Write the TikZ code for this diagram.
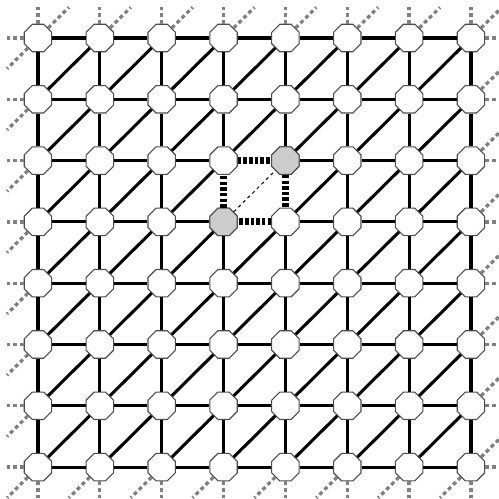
\documentclass[tikz,border=0pt]{standalone}
\usetikzlibrary{shapes.geometric}
\begin{document}
\begin{tikzpicture}[x=1cm,y=0.991cm,
  site/.style={regular polygon,regular polygon sides=8,draw=black!70,line width=0.5pt,fill=white,inner sep=0pt,minimum size=0.48cm},
  bond/.style={line width=1.4pt},
  ghost/.style={line width=1.5pt,black!50,dash pattern=on 1.8pt off 1.4pt},
  cut/.style={line width=3.2pt,dash pattern=on 1.6pt off 1pt},
  link/.style={line width=0.45pt,dash pattern=on 1.5pt off 1.5pt}]
\clip (-0.614,-0.506) rectangle (7.453,7.62);
\foreach \i in {0,...,7}
  \foreach \j in {0,...,7}
    \node[site] (n\i\j) at (\i,\j) {};
\node[site,fill=black!20] at (n34) {};
\node[site,fill=black!20] at (n45) {};
% ends of the wrapped bonds
\foreach \k in {0,...,7} {
  \coordinate (w\k) at (-0.5,\k);
  \coordinate (e\k) at (7.5,\k);
  \coordinate (s\k) at (\k,-0.5);
  \coordinate (t\k) at (\k,7.5);
  \coordinate (ur\k) at (7.5,\k+0.5);
  \coordinate (ut\k) at (\k+0.5,7.5);
  \coordinate (dl\k) at (-0.5,\k-0.5);
  \coordinate (db\k) at (\k-0.5,-0.5);
  \draw[ghost] (n0\k) -- (w\k) (n7\k) -- (e\k) (n\k0) -- (s\k) (n\k7) -- (t\k);
  \draw[ghost] (n7\k) -- (ur\k) (n\k7) -- (ut\k) (n0\k) -- (dl\k) (n\k0) -- (db\k);
}
\foreach \i in {0,...,6} {
  \pgfmathtruncatemacro\ii{\i+1}
  \foreach \j in {0,...,7} {
    \pgfmathtruncatemacro\hl{(\i==3)&&(\j==4||\j==5)}
    \ifnum\hl=0 \draw[bond] (n\i\j) -- (n\ii\j); \fi
    \pgfmathtruncatemacro\hl{(\i==4)&&(\j==3||\j==4)}
    \ifnum\hl=0 \draw[bond] (n\j\i) -- (n\j\ii); \fi
  }
  \foreach \j in {0,...,6} {
    \pgfmathtruncatemacro\jj{\j+1}
    \pgfmathtruncatemacro\hl{(\i==3)&&(\j==4)}
    \ifnum\hl=0 \draw[bond] (n\i\j) -- (n\ii\jj); \fi
  }
}
\draw[cut] (n35) -- (n45) -- (n44) -- (n34) -- (n35);
\draw[link] (n34) -- (n45);
\end{tikzpicture}
\end{document}
